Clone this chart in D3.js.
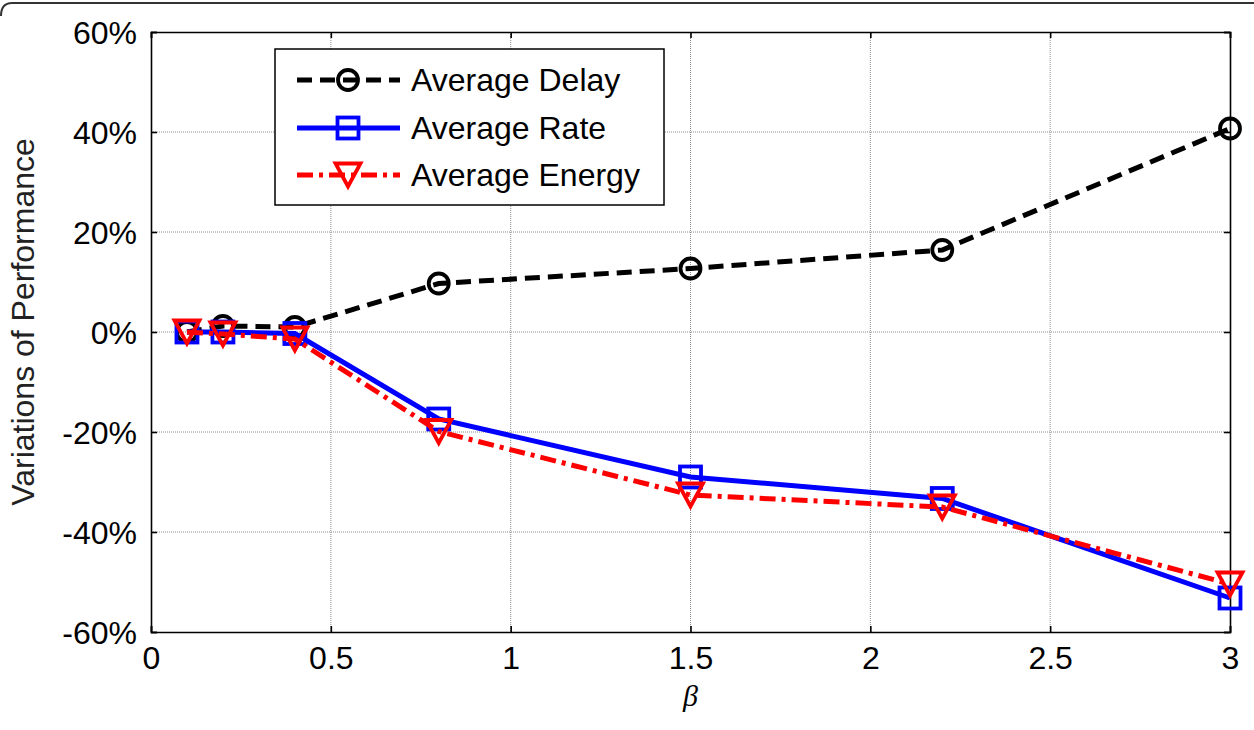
<!DOCTYPE html>
<html>
<head>
<meta charset="utf-8">
<script src="https://cdn.jsdelivr.net/npm/d3@7"></script>
<style>
  body { margin: 0; background: #fff; }
  svg { display: block; font-family: "Liberation Sans", Arial, sans-serif; }
</style>
</head>
<body>
<svg id="chart" width="1254" height="730" viewBox="0 0 1254 730"></svg>
<script>
// beta values on the x axis
const betas = [0.1, 0.2, 0.4, 0.8, 1.5, 2.2, 3];
// variations of performance, in percent
const delay = [0, 1.2, 1, 9.7, 12.7, 16.4, 40.7];
const rate = [0, 0, -0.3, -17.4, -29, -33.3, -53.2];
const energy = [0, -0.4, -1.4, -19.9, -32.6, -35, -50.4];

const xTicks = [0, 0.5, 1, 1.5, 2, 2.5, 3];
const yTicks = [-60, -40, -20, 0, 20, 40, 60];
const seriesNames = ["Average Delay", "Average Rate", "Average Energy"];

const svg = d3.select("#chart");
const fontSize = 32;

// figure frame (rounded corner peeking at the top left)
svg.append("path")
  .attr("d", "M1,16 Q1,3 12,3 H1254")
  .attr("fill", "none").attr("stroke", "#333").attr("stroke-width", 2);

const margin = { left: 151, right: 1230, top: 32, bottom: 632 };

const x = d3.scaleLinear().domain([0, 3]).range([margin.left, margin.right]);
const y = d3.scaleLinear().domain([-60, 60]).range([margin.bottom, margin.top]);

const plot = svg.append("g");

// grid lines
const grid = plot.append("g")
  .attr("stroke", "#8c8c8c").attr("stroke-width", 1).attr("stroke-dasharray", "1,1");
grid.selectAll(".gx").data(xTicks.slice(1, -1)).enter().append("line")
  .attr("x1", d => x(d)).attr("x2", d => x(d))
  .attr("y1", margin.top).attr("y2", margin.bottom);
grid.selectAll(".gy").data(yTicks.slice(1, -1)).enter().append("line")
  .attr("y1", d => y(d)).attr("y2", d => y(d))
  .attr("x1", margin.left).attr("x2", margin.right);

// axes (MATLAB style: ticks inside, box on)
const xAxis = d3.axisBottom(x).tickValues(xTicks).tickSize(-6).tickPadding(14)
  .tickFormat(d3.format(""));
const yAxis = d3.axisLeft(y).tickValues(yTicks).tickSize(-6).tickPadding(14)
  .tickFormat(d => d + "%");

const gx = plot.append("g").attr("transform", `translate(0,${margin.bottom})`).call(xAxis);
const gy = plot.append("g").attr("transform", `translate(${margin.left},0)`).call(yAxis);
const gxTop = plot.append("g").attr("transform", `translate(0,${margin.top})`)
  .call(d3.axisTop(x).tickValues(xTicks).tickSize(-6).tickFormat(""));
const gyRight = plot.append("g").attr("transform", `translate(${margin.right},0)`)
  .call(d3.axisRight(y).tickValues(yTicks).tickSize(-6).tickFormat(""));

[gx, gy, gxTop, gyRight].forEach(g => {
  g.select(".domain").attr("stroke", "#000").attr("stroke-width", 1.6);
  g.selectAll(".tick line").attr("stroke", "#000").attr("stroke-width", 1.6);
  g.selectAll("text").attr("fill", "#000").attr("font-size", fontSize)
    .attr("font-family", "Liberation Sans, Arial, sans-serif");
});
gy.selectAll("text").attr("dy", "0.35em");
gx.selectAll("text").attr("dy", "0.72em");

// axis titles
svg.append("text")
  .attr("transform", `translate(34,${(margin.top + margin.bottom) / 2 - 10}) rotate(-90)`)
  .attr("text-anchor", "middle").attr("font-size", fontSize).attr("fill", "#222")
  .text("Variations of Performance");
svg.append("text")
  .attr("x", x(1.5)).attr("y", 706).attr("text-anchor", "middle")
  .attr("font-family", "Liberation Serif, serif").attr("font-style", "italic")
  .attr("font-size", 30).attr("fill", "#000").text("β");

// series
const series = [
  { name: seriesNames[0], values: delay, color: "#000", dash: "15,8", marker: "circle" },
  { name: seriesNames[1], values: rate, color: "#0000ff", dash: null, marker: "square" },
  { name: seriesNames[2], values: energy, color: "#ff0000", dash: "16,6,4,6", marker: "triangle" }
];

const line = d3.line().x((d, i) => x(betas[i])).y(d => y(d));

function drawMarker(g, type, cx, cy, color) {
  if (type === "circle") {
    g.append("circle").attr("cx", cx).attr("cy", cy).attr("r", 10)
      .attr("fill", "none").attr("stroke", color).attr("stroke-width", 3.8);
  } else if (type === "square") {
    g.append("rect").attr("x", cx - 10.5).attr("y", cy - 10.5).attr("width", 21).attr("height", 21)
      .attr("fill", "none").attr("stroke", color).attr("stroke-width", 3.8);
  } else {
    const w = 12.5, h = 11.5;
    g.append("path")
      .attr("d", `M${cx - w},${cy - h}L${cx + w},${cy - h}L${cx},${cy + h}Z`)
      .attr("fill", "none").attr("stroke", color).attr("stroke-width", 3.8)
      .attr("stroke-linejoin", "miter");
  }
}

series.forEach(s => {
  const g = plot.append("g");
  g.append("path").datum(s.values)
    .attr("d", line)
    .attr("fill", "none").attr("stroke", s.color).attr("stroke-width", 5)
    .attr("stroke-dasharray", s.dash);
  s.values.forEach((v, i) => drawMarker(g, s.marker, x(betas[i]), y(v), s.color));
});

// legend
const legend = svg.append("g");
legend.append("rect")
  .attr("x", 275).attr("y", 49).attr("width", 389).attr("height", 156)
  .attr("fill", "#fff").attr("stroke", "#000").attr("stroke-width", 1.5);
const rowY = [80, 128, 175];
series.forEach((s, i) => {
  const ly = rowY[i];
  legend.append("line")
    .attr("x1", 297).attr("x2", 400).attr("y1", ly).attr("y2", ly)
    .attr("stroke", s.color).attr("stroke-width", 5)
    .attr("stroke-dasharray", s.dash);
  drawMarker(legend, s.marker, 348, ly, s.color);
  legend.append("text")
    .attr("x", 411).attr("y", ly).attr("dy", "0.35em")
    .attr("font-size", fontSize).attr("fill", "#000").text(s.name);
});
</script>
</body>
</html>
